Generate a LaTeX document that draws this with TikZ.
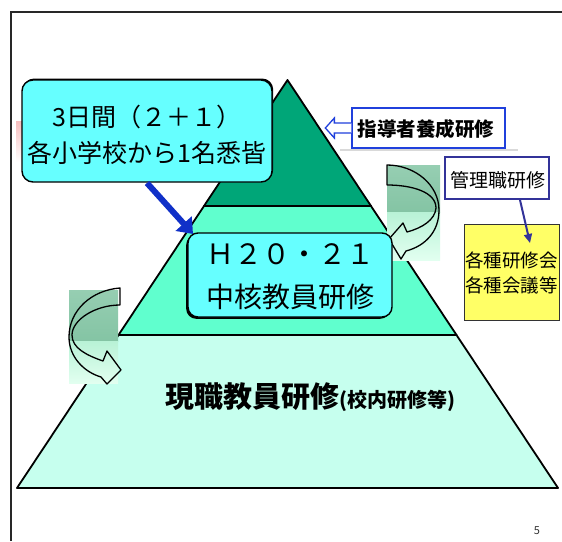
\documentclass[tikz,border=0pt]{standalone}
\usepackage{fontspec}
\newfontfamily\jp{Noto Sans CJK JP}
\usetikzlibrary{arrows.meta,calc,shadows}
\definecolor{framec}{RGB}{40,40,40}
\definecolor{topG}{RGB}{0,166,120}
\definecolor{midG}{RGB}{96,255,206}
\definecolor{botG}{RGB}{198,255,238}
\definecolor{cyanbox}{RGB}{102,255,255}
\definecolor{bluearr}{RGB}{16,48,200}
\definecolor{bluebox}{RGB}{32,64,220}
\definecolor{navy}{RGB}{51,51,153}
\definecolor{yel}{RGB}{255,255,102}
\definecolor{agA}{RGB}{150,206,178}
\definecolor{agB}{RGB}{132,196,164}
\definecolor{agC}{RGB}{184,242,214}
\definecolor{agD}{RGB}{226,255,240}
\definecolor{pinkc}{RGB}{246,190,190}
\tikzset{
  tier/.style={draw=black, line width=1.8pt, line join=round},
  cbox/.style={draw=black, line width=1.4pt, fill=cyanbox, rounded corners=11pt, inner sep=0pt},
  curvearr/.style={draw=black, line width=1.3pt, line join=round},
  jptext/.style={font=\jp, inner sep=0pt, align=center},
}
\begin{document}
\begin{tikzpicture}[x=1pt,y=-1pt]
\useasboundingbox (0,0) rectangle (562,541);
\fill[white] (0,0) rectangle (562,541);
% frame
\draw[framec, line width=2pt] (10.5,541) -- (10.5,11.5) -- (562,11.5);
% pink smudge
\shade[top color=pinkc, bottom color=white] (16,121) rectangle (22,162);
% pyramid
\draw[tier, fill=botG] (17,488) -- (118.5,335) -- (456.5,335) -- (558,488) -- cycle;
\draw[tier, fill=midG] (118.5,335) -- (204,206) -- (371,206) -- (456.5,335) -- cycle;
\draw[tier, fill=topG] (287.5,80) -- (204,206) -- (371,206) -- cycle;
% left curved arrow
\shade[top color=agA, bottom color=agB] (69,290) rectangle (118,341);
\shade[top color=agC, bottom color=agD] (69,341) rectangle (118,383);
\draw[curvearr] (120,288) .. controls (92,290) and (69,310) .. (69,337)
  .. controls (69,357) and (84,372) .. (101,377)
  -- (107,384) -- (121,370) -- (107,351) -- (103,361)
  .. controls (86,355) and (72,348) .. (72,335)
  .. controls (72,320) and (95,305) .. (120,305) -- cycle;
% right curved arrow
\shade[top color=agA, bottom color=agB] (387,165) rectangle (440,212);
\shade[top color=agC, bottom color=agD] (387,212) rectangle (440,260);
\draw[curvearr] (387,165) .. controls (415,165) and (439,185) .. (439,210)
  .. controls (439,232) and (425,246) .. (406,251)
  -- (401,259) -- (389,239) -- (403,223) -- (407,232)
  .. controls (422,228) and (435,220) .. (436,208)
  .. controls (436,192) and (412,185) .. (387,185) -- cycle;
% box 1
\node[cbox, minimum width=250pt, minimum height=102pt,
      drop shadow={shadow xshift=1.2pt, shadow yshift=1.5pt, opacity=1, fill=black}] (box1) at (147,131) {};
\node[jptext, font=\jp\fontsize{25}{36}\selectfont] (box1t) at (147,135) {3日間（２＋１）\\各小学校から1名悉皆};
% box 2
\node[cbox, rounded corners=10pt, minimum width=204pt, minimum height=84pt,
      drop shadow={shadow xshift=-1.8pt, shadow yshift=-1.8pt, opacity=1, fill=black}] (box2) at (290,275) {};
\node[jptext, font=\jp\fontsize{28}{43}\selectfont] (box2t) at (290,277) {Ｈ２０・２１\\中核教員研修};
% arrow box1 -> box2
\coordinate (a1) at (147,183);
\coordinate (a2) at (193,234);
\draw[bluearr, line width=6pt, -{Triangle[length=14pt,width=21pt]}] (a1) -- (a2);
% box 3 (callout)
\draw[gray!30, line width=2pt] (340,149.5) -- (518,149.5);
\node[draw=bluebox, line width=1.3pt, fill=white, minimum width=153pt, minimum height=40pt, inner sep=0pt] (box3) at (428.5,128) {};
\draw[bluebox, line width=1.3pt, fill=white, line join=miter]
  ($(box3.west)+(0,-5)$) -- ++(-17,0) -- ++(0,-5) -- ++(-9,10) -- ++(9,10) -- ++(0,-5) -- ++(17,0);
\node[jptext, font=\jp\bfseries\fontsize{19.5}{22}\selectfont] (box3t) at (426,129) {指導者養成研修};
% box 4
\node[draw=navy, line width=1.8pt, fill=white, minimum width=104pt, minimum height=42pt, inner sep=0pt] (box4) at (497,178) {};
\node[jptext, font=\jp\fontsize{19}{22}\selectfont] (box4t) at (498,180) {管理職研修};
% box 5
\node[draw=black!80, line width=1pt, fill=yel, minimum width=95pt, minimum height=96pt, inner sep=0pt] (box5) at (511.5,272) {};
\node[jptext, font=\jp\fontsize{18.5}{25}\selectfont] (box5t) at (511.5,273) {各種研修会\\各種会議等};
% arrow box4 -> box5
\coordinate (n1) at (520,200);
\coordinate (n2) at (530,243);
\draw[navy, line width=2pt, -{Triangle[length=9pt,width=8pt]}] (n1) -- (n2);
% bottom text
\node[jptext] (bott) at (310,397) {{\jp\bfseries\fontsize{29}{32}\selectfont 現職教員研修}{\jp\bfseries\fontsize{20}{24}\selectfont (校内研修等)}};
% page number
\node[jptext, font=\jp\fontsize{11}{13}\selectfont, text=black!80] (pnum) at (537,531) {5};
\end{tikzpicture}
\end{document}
